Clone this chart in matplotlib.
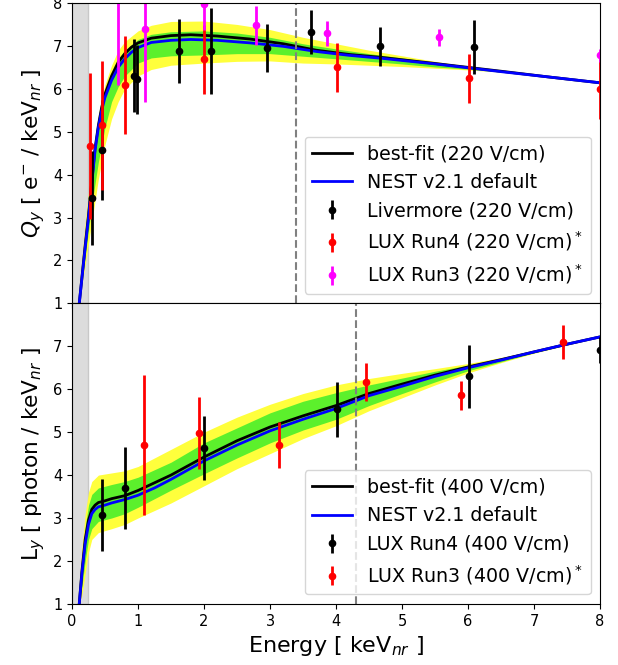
import numpy as np
import matplotlib
matplotlib.use("Agg")
import matplotlib.pyplot as plt

# ------------------ DATOS: Qy (220 V/cm) ------------------

qy_x      = [0.11, 0.2, 0.25, 0.3, 0.35, 0.4, 0.45, 0.5, 0.6, 0.7, 0.8, 0.9, 1.0, 1.2, 1.5,
             1.8, 2.2, 2.7, 3.2, 3.7, 4.2, 4.7, 5.5, 6.5, 7.2, 8.0]
qy_nest   = [1.0, 2.3, 3.0, 3.8, 4.57, 5.1, 5.5, 5.8, 6.2, 6.5, 6.7, 6.85, 6.96, 7.08, 7.13,
             7.15, 7.13, 7.07, 6.99, 6.87, 6.78, 6.71, 6.58, 6.40, 6.28, 6.14]
qy_best   = [1.0, 2.35, 3.05, 3.85, 4.62, 5.15, 5.57, 5.88, 6.3, 6.62, 6.82, 6.97, 7.07, 7.18, 7.24,
             7.26, 7.23, 7.16, 7.05, 6.9, 6.8, 6.73, 6.59, 6.41, 6.28, 6.14]

qy_band_x = [0.1, 0.2, 0.3, 0.4, 0.5, 0.6, 0.7, 0.8, 1.0, 1.2, 1.5, 2.0, 2.5, 3.0, 3.5, 4.0,
             4.5, 5.0, 5.5, 6.0, 6.5, 7.0, 8.0]
qy_y_hi   = [1.2, 2.9, 4.3, 5.4, 6.1, 6.55, 6.9, 7.1, 7.35, 7.48, 7.57, 7.58, 7.5, 7.38, 7.2, 7.05,
             6.9, 6.77, 6.64, 6.52, 6.40, 6.33, 6.14]
qy_y_lo   = [1.0, 1.9, 2.9, 3.9, 4.7, 5.3, 5.7, 6.0, 6.3, 6.45, 6.55, 6.6, 6.64, 6.65, 6.6, 6.58,
             6.55, 6.52, 6.48, 6.44, 6.39, 6.33, 6.14]
qy_g_hi   = [1.1, 2.6, 4.0, 5.0, 5.85, 6.35, 6.7, 6.9, 7.15, 7.27, 7.33, 7.35, 7.3, 7.2, 7.05, 6.93,
             6.82, 6.72, 6.61, 6.5, 6.4, 6.33, 6.14]
qy_g_lo   = [1.0, 2.1, 3.3, 4.3, 5.1, 5.7, 6.05, 6.3, 6.6, 6.72, 6.77, 6.79, 6.82, 6.82, 6.76, 6.7,
             6.64, 6.58, 6.51, 6.46, 6.39, 6.33, 6.14]

liv_x   = [0.30, 0.45, 0.94, 0.99, 1.62, 2.11, 2.96, 3.62, 4.66, 6.09]
liv_y   = [3.46, 4.58, 6.31, 6.22, 6.88, 6.88, 6.95, 7.32, 6.99, 6.98]
liv_err = [1.1, 1.17, 0.85, 0.8, 0.74, 1.0, 0.55, 0.52, 0.45, 0.63]

lux4_220_x   = [0.27, 0.46, 0.81, 2.0, 4.01, 6.02, 8.0]
lux4_220_y   = [4.67, 5.15, 6.09, 6.69, 6.5, 6.25, 6.0]
lux4_220_err = [1.7, 1.5, 1.15, 0.8, 0.57, 0.57, 0.7]

lux3_220_x   = [0.70, 1.11, 2.0, 2.78, 3.87, 5.56, 8.0]
lux3_220_y   = [8.2, 7.39, 7.97, 7.48, 7.29, 7.2, 6.78]
lux3_220_err = [2.1, 1.7, 0.6, 0.45, 0.3, 0.2, 0.15]

# ------------------ DATOS: Ly (400 V/cm) ------------------

ly_x    = [0.11, 0.15, 0.2, 0.25, 0.3, 0.35, 0.4, 0.5, 0.6, 0.8, 1.0, 1.25, 1.5, 2.0, 2.5, 3.0,
           3.5, 4.0, 4.5, 5.0, 5.5, 6.0, 6.5, 7.0, 7.5, 8.0]
ly_nest = [1.0, 1.7, 2.4, 2.85, 3.1, 3.2, 3.26, 3.3, 3.35, 3.43, 3.53, 3.7, 3.9, 4.33, 4.7, 5.03,
           5.3, 5.55, 5.85, 6.07, 6.3, 6.5, 6.68, 6.87, 7.05, 7.22]
ly_best = [1.0, 1.75, 2.5, 2.95, 3.2, 3.3, 3.36, 3.4, 3.45, 3.52, 3.64, 3.82, 4.0, 4.42, 4.8, 5.12,
           5.38, 5.62, 5.9, 6.12, 6.33, 6.52, 6.69, 6.87, 7.05, 7.22]

ly_band_x = [0.1, 0.15, 0.2, 0.25, 0.3, 0.4, 0.6, 0.8, 1.0, 1.5, 2.0, 2.5, 3.0, 3.5, 4.0, 4.5,
             5.0, 5.5, 6.0, 6.5, 7.0, 7.5, 8.0]
ly_y_hi = [1.3, 2.3, 3.1, 3.6, 3.85, 4.0, 4.05, 4.1, 4.2, 4.6, 5.0, 5.35, 5.65, 5.9, 6.1, 6.25,
           6.37, 6.48, 6.6, 6.74, 6.9, 7.06, 7.22]
ly_y_lo = [1.0, 1.2, 1.7, 2.2, 2.5, 2.66, 2.75, 2.85, 3.0, 3.35, 3.75, 4.15, 4.5, 4.85, 5.15, 5.5,
           5.8, 6.1, 6.38, 6.62, 6.84, 7.03, 7.22]
ly_g_hi = [1.15, 2.0, 2.8, 3.3, 3.55, 3.7, 3.78, 3.85, 3.95, 4.3, 4.75, 5.1, 5.45, 5.72, 5.92, 6.1,
           6.26, 6.42, 6.56, 6.72, 6.89, 7.05, 7.22]
ly_g_lo = [1.0, 1.4, 2.0, 2.5, 2.75, 2.92, 3.0, 3.1, 3.25, 3.65, 4.03, 4.4, 4.75, 5.05, 5.3, 5.62,
           5.9, 6.17, 6.43, 6.64, 6.85, 7.04, 7.22]

lux4_400_x   = [0.46, 0.81, 2.0, 4.01, 6.02, 8.0]
lux4_400_y   = [3.07, 3.7, 4.63, 5.53, 6.3, 6.92]
lux4_400_err = [0.85, 0.95, 0.75, 0.64, 0.74, 0.3]

lux3_400_x   = [1.09, 1.92, 3.14, 4.46, 5.9, 7.44]
lux3_400_y   = [4.7, 4.99, 4.7, 6.16, 5.86, 7.1]
lux3_400_err = [1.64, 0.84, 0.54, 0.44, 0.34, 0.4]

# ------------------ FIGURA ------------------

YELLOW = '#ffff3c'
GREEN  = '#5cf02c'

fig, (ax1, ax2) = plt.subplots(2, 1, figsize=(6.18, 6.65), dpi=100, sharex=True)
fig.subplots_adjust(left=0.1165, right=0.971, top=0.9955, bottom=0.092, hspace=0)

eb_kw = dict(fmt='o', markersize=4.5, elinewidth=2, capsize=0)
leg_kw = dict(loc='lower right', fontsize=13.7, handlelength=2.1)

# --- panel superior ---
ax1.axvspan(0, 0.25, facecolor='#dcdcdc', edgecolor='#c8c8c8', lw=1)
ax1.fill_between(qy_band_x, qy_y_lo, qy_y_hi, color=YELLOW, lw=0)
ax1.fill_between(qy_band_x, qy_g_lo, qy_g_hi, color=GREEN, lw=0)
ax1.plot(qy_x, qy_best, color='black', lw=2, label='best-fit (220 V/cm)')
ax1.plot(qy_x, qy_nest, color='blue', lw=2, label='NEST v2.1 default')
ax1.errorbar(liv_x, liv_y, yerr=liv_err, color='black', label='Livermore (220 V/cm)', **eb_kw)
ax1.errorbar(lux4_220_x, lux4_220_y, yerr=lux4_220_err, color='red',
             label='LUX Run4 (220 V/cm)$^*$', **eb_kw)
ax1.errorbar(lux3_220_x, lux3_220_y, yerr=lux3_220_err, color='magenta',
             label='LUX Run3 (220 V/cm)$^*$', **eb_kw)
ax1.axvline(3.4, color='grey', ls='--', lw=1.5)
ax1.set_ylim(1, 8)
ax1.set_yticks(range(1, 9))
ax1.set_ylabel(r'$Q_y$ [ e$^{-}$ / keV$_{nr}$ ]', fontsize=15.6)
ax1.legend(**leg_kw)
ax1.tick_params(labelsize=10.5)

# --- panel inferior ---
ax2.axvspan(0, 0.25, facecolor='#dcdcdc', edgecolor='#c8c8c8', lw=1)
ax2.fill_between(ly_band_x, ly_y_lo, ly_y_hi, color=YELLOW, lw=0)
ax2.fill_between(ly_band_x, ly_g_lo, ly_g_hi, color=GREEN, lw=0)
ax2.plot(ly_x, ly_best, color='black', lw=2, label='best-fit (400 V/cm)')
ax2.plot(ly_x, ly_nest, color='blue', lw=2, label='NEST v2.1 default')
ax2.errorbar(lux4_400_x, lux4_400_y, yerr=lux4_400_err, color='black',
             label='LUX Run4 (400 V/cm)', **eb_kw)
ax2.errorbar(lux3_400_x, lux3_400_y, yerr=lux3_400_err, color='red',
             label='LUX Run3 (400 V/cm)$^*$', **eb_kw)
ax2.axvline(4.3, color='grey', ls='--', lw=1.5)
ax2.set_ylim(1, 8)
ax2.set_yticks(range(1, 8))
ax2.set_xlim(0, 8)
ax2.set_xticks(range(0, 9))
ax2.set_ylabel(r'L$_y$ [ photon / keV$_{nr}$ ]', fontsize=15.6)
ax2.set_xlabel(r'Energy [ keV$_{nr}$ ]', fontsize=16)
ax2.legend(**leg_kw)
ax2.tick_params(labelsize=10.5)

fig.savefig('out.png', dpi=100)
